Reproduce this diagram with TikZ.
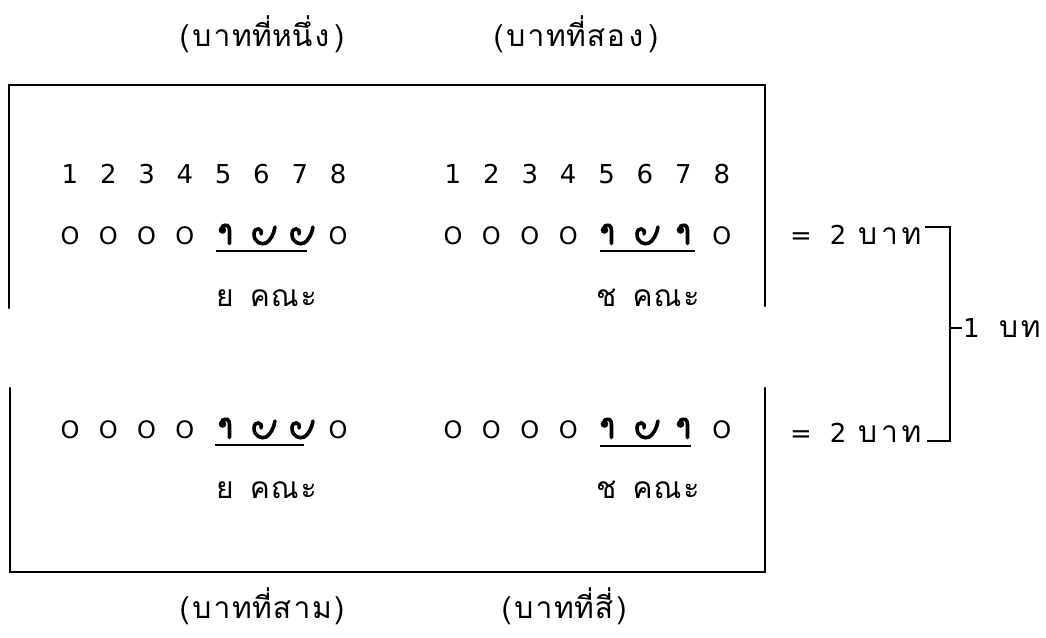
\documentclass[tikz,border=0pt]{standalone}
\usepackage{fontspec}
\setmainfont{DejaVu Sans}
\newfontfamily\thaifont[Script=Thai]{Loma}
\newcommand\tc[1]{\makebox[20pt]{#1}}
\newcommand\tk[1]{\makebox[22pt]{#1}}
\newcommand\pc[1]{\makebox[15pt]{#1}}
\newcommand\thx[1]{{\fontsize{30}{32}\thaifont #1}}
\tikzset{
  lat/.style={font=\fontsize{26}{28}\selectfont, inner sep=0pt, anchor=base},
  zer/.style={font=\fontsize{24}{26}\selectfont, inner sep=0pt, anchor=base},
  thl/.style={font=\fontsize{30}{32}\thaifont, inner sep=0pt, anchor=base},
  boxline/.style={line width=2.4pt, line cap=round},
  uline/.style={line width=2.6pt},
  brk/.style={line width=1.8pt},
  prosline/.style={line width=3.6pt, line cap=round},
  lahu/.pic={\fill (-3.5,-5) circle (3.8pt);
    \draw[prosline] (-4,-8.5) .. controls (0,-11) and (3.5,-10) .. (3.5,-4.5) -- (3.5,8.5);},
  kru/.pic={\draw[prosline] (-3,-2) .. controls (-1,-8) and (-10,-9.5) .. (-10,-2)
    .. controls (-10,7) and (-2,9) .. (2,7) .. controls (6,5) and (10,-2) .. (11,-9);}
}
\begin{document}
\begin{tikzpicture}[x=1pt,y=-1pt]
\useasboundingbox (0,0) rectangle (1046,637);
% frame
\coordinate (tl) at (9,85); \coordinate (tr) at (765,85);
\coordinate (bl) at (10,572); \coordinate (br) at (765,572);
\coordinate (lu) at (9,308); \coordinate (ll) at (10,388);
\coordinate (ru) at (765,306); \coordinate (rl) at (765,388);
\draw[boxline] (lu) -- (tl) -- (tr) -- (ru);
\draw[boxline] (ll) -- (bl) -- (br) -- (rl);
% labels
\node[thl] (lab1) at (262,46) {\pc{(}\tc{บ}\tc{า}\tc{ท}\tc{ที่}\tc{ห}\tc{นึ่}\tc{ง}\pc{)}};
\node[thl] (lab2) at (576,46) {\pc{(}\tc{บ}\tc{า}\tc{ท}\tc{ที่}\tc{ส}\tc{อ}\tc{ง}\pc{)}};
\node[thl] (lab3) at (262,618) {\pc{(}\tc{บ}\tc{า}\tc{ท}\tc{ที่}\tc{ส}\tc{า}\tc{ม}\pc{)}};
\node[thl] (lab4) at (564,618) {\pc{(}\tc{บ}\tc{า}\tc{ท}\tc{ที่}\tc{สี่}\pc{)}};
% position numbers
\foreach \d in {1,...,8} {
  \node[lat] (nl\d) at ({70+38.3*(\d-1)},183) {\d};
  \node[lat] (nr\d) at ({453+38.4*(\d-1)},183) {\d};
}
% syllable circles
\foreach \d in {1,2,3,4,8} {
  \node[zer] (zul\d) at ({70+38.3*(\d-1)},244) {O};
  \node[zer] (zur\d) at ({453+38.4*(\d-1)},244) {O};
  \node[zer] (zll\d) at ({70+38.3*(\d-1)},438) {O};
  \node[zer] (zlr\d) at ({453+38.4*(\d-1)},438) {O};
}
% prosody marks
\pic at (226,235) {lahu}; \pic at (264,236) {kru}; \pic at (302,236) {kru};
\pic at (608,235) {lahu}; \pic at (647,236) {kru}; \pic at (684,235) {lahu};
\pic at (226,429) {lahu}; \pic at (264,430) {kru}; \pic at (302,430) {kru};
\pic at (608,429) {lahu}; \pic at (647,430) {kru}; \pic at (684,429) {lahu};
\draw[uline] (216,251) -- (307,251);
\draw[uline] (600,251) -- (695,251);
\draw[uline] (215,445) -- (304,445);
\draw[uline] (600,446) -- (691,446);
% khana names
\node[thl, anchor=base west] (kul) at (216,306) {ย\hspace{16pt}ค\hspace{1pt}ณ\hspace{2pt}ะ};
\node[thl, anchor=base west] (kur) at (596,306) {ช\hspace{16pt}ค\hspace{1pt}ณ\hspace{2pt}ะ};
\node[thl, anchor=base west] (kll) at (216,498) {ย\hspace{16pt}ค\hspace{1pt}ณ\hspace{2pt}ะ};
\node[thl, anchor=base west] (klr) at (596,498) {ช\hspace{16pt}ค\hspace{1pt}ณ\hspace{2pt}ะ};
% right side
\node[lat, anchor=base west] (eq1) at (790,244) {=\hspace{18pt}2\hspace{10pt}\thx{\tk{บ}\tk{า}\tk{ท}}};
\node[lat, anchor=base west] (eq2) at (790,442) {=\hspace{18pt}2\hspace{10pt}\thx{\tk{บ}\tk{า}\tk{ท}}};
\coordinate (bt) at (950,227); \coordinate (bb) at (950,441); \coordinate (bm) at (950,328);
\draw[brk] ([xshift=2pt]eq1.east |- bt) -- (bt) -- (bb) -- ([xshift=4pt]eq2.east |- bb);
\node[lat, anchor=base west] (one) at (963,337) {1\hspace{18pt}\thx{\tk{บ}\tk{ท}}};
\draw[brk] (bm) -- ([xshift=-1pt]one.west |- bm);
\end{tikzpicture}
\end{document}
